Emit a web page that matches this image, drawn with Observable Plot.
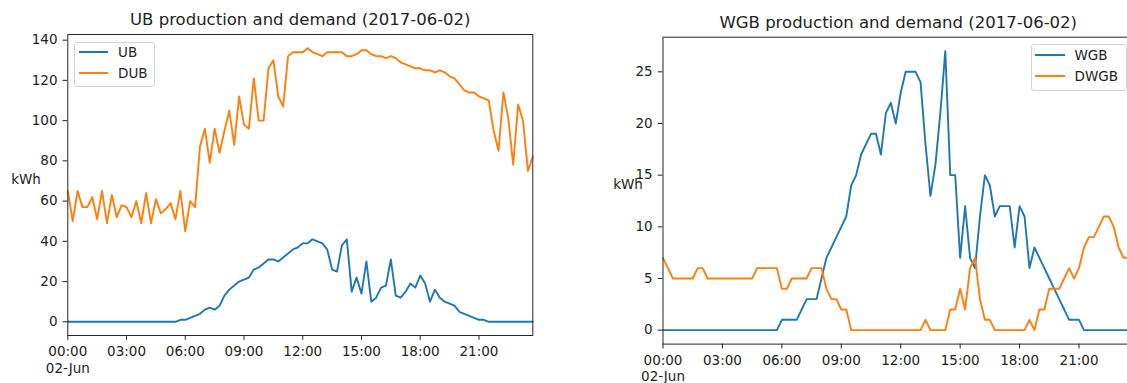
<!DOCTYPE html>
<html>
<head>
<meta charset="utf-8">
<script src="https://cdn.jsdelivr.net/npm/d3@7"></script>
<script src="https://cdn.jsdelivr.net/npm/@observablehq/plot@0.6"></script>
<style>
  html, body { margin: 0; padding: 0; background: #fff; }
  #chart { position: relative; width: 1127px; height: 383px; overflow: hidden;
           font-family: "DejaVu Sans", sans-serif; color: #222; background: #fff; }
  .panel { position: absolute; top: 0; }
  .panel svg { display: block; max-width: none; }
  .legend { position: absolute; box-sizing: border-box; border: 1px solid #d4d4d4;
            border-radius: 3px; background: rgba(255,255,255,0.8); }
  .swatch { position: absolute; height: 2px; }
  .entry { position: absolute; height: 16px; line-height: 16px; font-size: 13.5px; white-space: nowrap; }
</style>
</head>
<body>
<div id="chart"></div>
<script>
// Readings every 15 minutes on 2017-06-02 (kWh)
const ub = [0,0,0,0,0,0,0,0,0,0, 0,0,0,0,0,0,0,0,0,0, 0,0,0,
  1,1,2,3,4,6,7,6,8,13, 16,18,20,21,22,26,27,29,31,31,
  30,32,34,36,37,39,39,41,40,39, 36,26,25,38,41,15,22,14,30,10,
  12,17,18,31,13,12,15,19,17,23, 19,10,16,12,10,9,8,5,4,3,
  2,1,1,0,0,0,0,0,0,0, 0,0,0];
const dub = [65,50,65,57,57,62,51,65,49,63, 52,58,57,52,60,49,64,49,61,54,
  56,59,51,65,45,60,57,87,96,79, 96,84,95,105,88,112,98,96,121,100,
  100,126,130,112,107,132,134,134,134,136, 134,133,132,134,134,134,134,132,132,133,
  135,135,133,132,132,131,132,131,129,128, 127,126,126,125,125,124,125,124,122,121,
  118,115,114,114,112,111,110,95,85,114, 101,78,108,100,75,82];
const wgb = [0,0,0,0,0,0,0,0,0,0, 0,0,0,0,0,0,0,0,0,0,
  0,0,0,0,1,1,1,1,2,3, 3,3,5,7,8,9,10,11,14,15,
  17,18,19,19,17,21,22,20,23,25, 25,25,24,18,13,16,21,27,15,15,
  7,12,7,6,11,15,14,11,12,12, 12,8,12,11,6,8,7,6,5,4,
  3,2,1,1,1,0,0,0,0,0, 0,0,0,0,0,0];
const dwgb = [7,6,5,5,5,5,5,6,6,5, 5,5,5,5,5,5,5,5,5,6,
  6,6,6,6,4,4,5,5,5,5, 6,6,6,4,3,3,2,2,0,0,
  0,0,0,0,0,0,0,0,0,0, 0,0,0,1,0,0,0,0,2,2,
  4,2,6,7,3,1,1,0,0,0, 0,0,0,0,1,0,2,2,4,4,
  4,5,6,5,6,8,9,9,10,11, 11,10,8,7,7,7];

const ubNames = ["UB", "DUB"];
const wgbNames = ["WGB", "DWGB"];
const titles = ["UB production and demand (2017-06-02)", "WGB production and demand (2017-06-02)"];
const unitLabel = "kWh";
const tickHours = [0, 3, 6, 9, 12, 15, 18, 21];
const tickLabels = ["00:00", "03:00", "06:00", "09:00", "12:00", "15:00", "18:00", "21:00"];
const dateLabel = "02-Jun";
const ubTicks = [0, 20, 40, 60, 80, 100, 120, 140];
const wgbTicks = [0, 5, 10, 15, 20, 25];
const colors = ["#1f77b4", "#ff7f0e"];

const dayStart = Date.UTC(2017, 5, 2);
const stepMs = 15 * 60 * 1000;
const timeAt = i => new Date(dayStart + i * stepMs);
const hourAt = h => new Date(dayStart + h * 3600 * 1000);

const chart = document.getElementById("chart");
const FS = 13.5;

function drawPanel(cfg) {
  const { names, series, title, yDomain, yTicks, left, width, margin, kwh, titleDy } = cfg;
  const rows = series.map(vals => vals.map((v, i) => ({ time: timeAt(i), value: v })));
  const t0 = rows[0][0].time;
  const tEnd = rows[0][rows[0].length - 1].time;

  const svg = Plot.plot({
    width, height: 383,
    marginLeft: margin.left, marginRight: margin.right,
    marginTop: margin.top, marginBottom: margin.bottom,
    x: { type: "utc", domain: [t0, tEnd] },
    y: { domain: yDomain },
    style: { fontFamily: "DejaVu Sans, sans-serif", fontSize: FS + "px", color: "#222", background: "transparent", overflow: "visible" },
    marks: [
      Plot.axisX({
        ticks: tickHours.map(hourAt),
        tickFormat: d => tickLabels[tickHours.indexOf(d.getUTCHours())],
        tickSize: 4.8, tickPadding: 6.5, fontSize: FS, label: null
      }),
      Plot.axisY({ ticks: yTicks, tickSize: 4.8, tickPadding: 5.5, fontSize: FS, label: null }),
      Plot.text([{ time: t0, label: dateLabel }], {
        x: "time", text: "label", frameAnchor: "bottom", lineAnchor: "top", dy: 27.5, fontSize: FS
      }),
      Plot.text([unitLabel], {
        frameAnchor: "left", textAnchor: "middle", lineAnchor: "bottom",
        dx: kwh.dx, dy: kwh.dy, fontSize: FS
      }),
      Plot.text([title], {
        frameAnchor: "top", lineAnchor: "bottom", dy: titleDy, fontSize: 16.5
      }),
      Plot.lineY(rows[0], { x: "time", y: "value", stroke: colors[0], strokeWidth: 1.9 }),
      Plot.lineY(rows[1], { x: "time", y: "value", stroke: colors[1], strokeWidth: 1.9 }),
      Plot.frame({ stroke: "#262626", strokeWidth: 1 })
    ]
  });

  const div = document.createElement("div");
  div.className = "panel";
  div.style.left = left + "px";
  div.style.width = width + "px";
  div.appendChild(svg);
  chart.appendChild(div);
}

function drawLegend(names, box, rowsY, swatchX, textX) {
  const lg = document.createElement("div");
  lg.className = "legend";
  Object.assign(lg.style, { left: box.x + "px", top: box.y + "px", width: box.w + "px", height: box.h + "px" });
  chart.appendChild(lg);
  names.forEach((name, k) => {
    const sw = document.createElement("div");
    sw.className = "swatch";
    Object.assign(sw.style, { left: swatchX[0] + "px", width: (swatchX[1] - swatchX[0]) + "px",
      top: (rowsY[k] - 1) + "px", background: colors[k] });
    chart.appendChild(sw);
    const tx = document.createElement("div");
    tx.className = "entry";
    Object.assign(tx.style, { left: textX + "px", top: (rowsY[k] - 8) + "px" });
    tx.textContent = name;
    chart.appendChild(tx);
  });
}

drawPanel({
  names: ubNames, series: [ub, dub], title: titles[0],
  yDomain: [-6.8, 142.8], yTicks: ubTicks,
  left: 0, width: 560,
  margin: { left: 67.3, right: 27.7, top: 34, bottom: 48 },
  kwh: { dx: -41.8, dy: -1.5 }, titleDy: -10
});

drawPanel({
  names: wgbNames, series: [wgb, dwgb], title: titles[1],
  yDomain: [-1.35, 28.35], yTicks: wgbTicks,
  left: 560, width: 590,
  margin: { left: 102.5, right: 17, top: 36.7, bottom: 39.4 },
  kwh: { dx: -35, dy: -2 }, titleDy: -9
});

drawLegend(ubNames, { x: 74, y: 41.5, w: 81, h: 45.5 }, [52.3, 72.7], [78.5, 107.5], 118);
drawLegend(wgbNames, { x: 1030.5, y: 44, w: 96, h: 47 }, [55, 76], [1035, 1065], 1074.5);
</script>
</body>
</html>
